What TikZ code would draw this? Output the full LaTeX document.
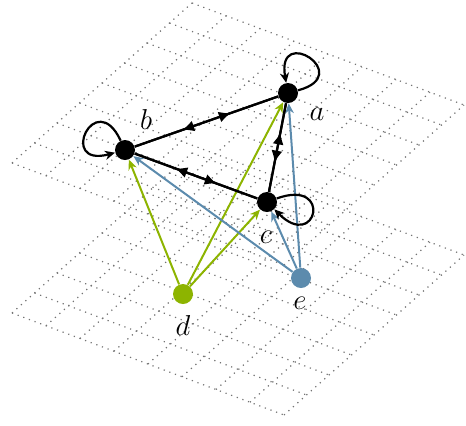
\documentclass[tikz,border=0pt]{standalone}
\usepackage{tikz}
\usetikzlibrary{arrows.meta, decorations.markings}

\definecolor{dgreen}{RGB}{141,180,0}
\definecolor{eblue}{RGB}{92,139,173}

\begin{document}
\begin{tikzpicture}[
  x=0.5pt, y=-0.5pt,
  every node/.style={font=\fontsize{14}{16}\selectfont},
  vtx/.style={circle, fill=black, inner sep=0pt, minimum size=10pt},
  vtxd/.style={vtx, fill=dgreen},
  vtxe/.style={vtx, fill=eblue},
  griddots/.style={line width=0.6pt, black!55, dash pattern=on 0.6pt off 2.4pt},
  arr/.style={line width=1.1pt, postaction={decorate},
    decoration={markings, mark=at position 0.67 with {\arrow{Latex[length=6pt, width=5.6pt]}}}},
  loopy/.style={line width=1.1pt, loop, min distance=30pt,
                -{Stealth[length=5pt, width=4.6pt, inset=1.6pt]}},
  darr/.style={line width=1pt, dgreen, -{Stealth[length=5pt, width=4.4pt, inset=1.6pt]}},
  earr/.style={line width=1pt, eblue, -{Stealth[length=5pt, width=4.4pt, inset=1.6pt]}}
]
  \useasboundingbox (0,0) rectangle (466,425);

  % --- Lower plane ---
  \begin{scope}[shift={(12,313)}, x={(11.25pt,10pt)}, y={(17pt,-6.375pt)}]
    \foreach \k in {0,...,8} {
      \draw[griddots] (\k,0) -- (\k,8);
      \draw[griddots] (0,\k) -- (8,\k);
    }
  \end{scope}

  % --- Upper plane ---
  \begin{scope}[shift={(12,163)}, x={(11.25pt,10pt)}, y={(17pt,-6.375pt)}]
    \foreach \k in {0,...,8} {
      \draw[griddots] (\k,0) -- (\k,8);
      \draw[griddots] (0,\k) -- (8,\k);
    }
  \end{scope}

  % --- Vertices ---
  \node[vtx]  (a) at (288,93)  {};
  \node[vtx]  (b) at (125,150) {};
  \node[vtx]  (c) at (267,202) {};
  \node[vtxd] (d) at (183,294) {};
  \node[vtxe] (e) at (301,278) {};

  \node (la) at (317,114) {$a$};
  \node (lb) at (146,119) {$b$};
  \node (lc) at (266,237) {$c$};
  \node (ld) at (183,325) {$d$};
  \node (le) at (300,303) {$e$};

  % --- Lower plane to upper plane ---
  \draw[darr] (d) -- (b);
  \draw[darr] (d) -- (a);
  \draw[darr] (d) -- (c);
  \draw[earr] (e) -- (b);
  \draw[earr] (e) -- (a);
  \draw[earr] (e) -- (c);

  % --- Upper plane edges ---
  \draw[arr] (b) -- (a);
  \draw[arr] (a) -- (b);
  \draw[arr] (b) -- (c);
  \draw[arr] (c) -- (b);
  \draw[arr] (c) -- (a);
  \draw[arr] (a) -- (c);

  % self loops
  \draw (a) edge[loopy, out=15, in=100] (a);
  \draw (b) edge[loopy, out=115, in=195] (b);
  \draw (c) edge[loopy, out=20, in=-45] (c);

\end{tikzpicture}
\end{document}
